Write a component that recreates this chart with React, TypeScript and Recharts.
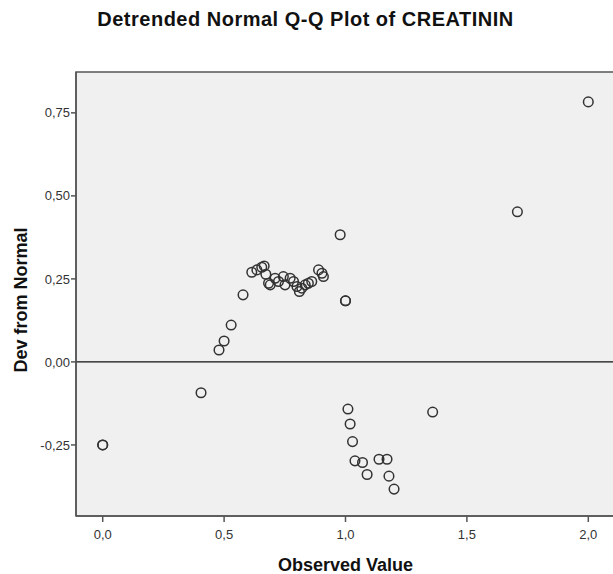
import { ScatterChart, Scatter, XAxis, YAxis, ReferenceArea, ReferenceLine } from 'recharts';

const observed = [
  0.0, 0.0, 0.405, 0.479, 0.5, 0.529, 0.578,
  0.614, 0.635, 0.655, 0.665, 0.672, 0.683, 0.69, 0.71, 0.724, 0.744, 0.751,
  0.772, 0.786, 0.8, 0.81, 0.82, 0.834, 0.847, 0.861, 0.889, 0.903, 0.909,
  0.978, 1.0, 1.0, 1.01, 1.019, 1.029, 1.039, 1.07, 1.089, 1.138, 1.171,
  1.179, 1.2, 1.359, 1.708, 2.0,
];

const devFromNormal = [
  -0.25, -0.25, -0.093, 0.036, 0.063, 0.111, 0.202,
  0.27, 0.277, 0.285, 0.289, 0.264, 0.237, 0.232, 0.252, 0.242, 0.257, 0.232,
  0.252, 0.242, 0.227, 0.212, 0.222, 0.232, 0.237, 0.242, 0.277, 0.267, 0.257,
  0.383, 0.184, 0.184, -0.142, -0.187, -0.24, -0.298, -0.303, -0.339, -0.293, -0.293,
  -0.344, -0.383, -0.151, 0.452, 0.783,
];

const xTicks = [0, 0.5, 1, 1.5, 2];
const yTicks = [-0.25, 0, 0.25, 0.5, 0.75];

const X_DOMAIN: [number, number] = [-0.11, 2.11];
const Y_DOMAIN: [number, number] = [-0.464, 0.873];

const points = observed.map((x, i) => ({ x, y: devFromNormal[i] }));

const font = '"Liberation Sans", Arial, sans-serif';

function Ring(props: any) {
  const { cx, cy } = props;
  if (cx == null || cy == null) return null;
  return <circle cx={cx} cy={cy} r={4.8} fill="none" stroke="#333" strokeWidth={1.5} />;
}

export default function App() {
  return (
    <div
      style={{
        position: 'absolute',
        left: 0,
        top: 0,
        width: 613,
        height: 574,
        overflow: 'hidden',
        background: '#fff',
        fontFamily: font,
      }}
    >
      <div
        style={{
          position: 'absolute',
          top: 8,
          left: 0,
          width: 611,
          textAlign: 'center',
          fontWeight: 'bold',
          fontSize: 20,
          letterSpacing: 0.5,
          color: '#111',
        }}
      >
        Detrended Normal Q-Q Plot of CREATININ
      </div>

      <div style={{ position: 'absolute', left: 0, top: 0 }}>
        <ScatterChart width={640} height={574} margin={{ top: 72, right: 25, bottom: 0, left: 0 }}>
          <ReferenceArea
            x1={X_DOMAIN[0]}
            x2={X_DOMAIN[1]}
            y1={Y_DOMAIN[0]}
            y2={Y_DOMAIN[1]}
            fill="#f0f0f0"
            fillOpacity={1}
            stroke="#555"
            strokeWidth={1.5}
          />
          <XAxis
            type="number"
            dataKey="x"
            domain={X_DOMAIN}
            ticks={xTicks}
            allowDataOverflow
            height={58}
            tickFormatter={(v: number) => v.toFixed(1).replace('.', ',')}
            tick={{ fill: '#333', fontSize: 13, fontFamily: font, dy: 6 }}
            tickLine={{ stroke: '#555', strokeWidth: 1.5 }}
            tickSize={6}
            axisLine={{ stroke: '#555', strokeWidth: 1.5 }}
            label={{
              value: 'Observed Value',
              position: 'insideBottom',
              offset: 3,
              fill: '#111',
              fontSize: 18,
              fontWeight: 'bold',
              fontFamily: font,
            }}
          />
          <YAxis
            type="number"
            dataKey="y"
            domain={Y_DOMAIN}
            ticks={yTicks}
            allowDataOverflow
            width={76}
            tickFormatter={(v: number) => v.toFixed(2).replace('.', ',')}
            tick={{ fill: '#333', fontSize: 13, fontFamily: font, dx: 1 }}
            tickLine={{ stroke: '#555', strokeWidth: 1.5 }}
            tickSize={5}
            axisLine={{ stroke: '#555', strokeWidth: 1.5 }}
            label={{
              value: 'Dev from Normal',
              angle: -90,
              position: 'insideLeft',
              offset: 21,
              dy: 6,
              style: { textAnchor: 'middle' },
              fill: '#111',
              fontSize: 18,
              fontWeight: 'bold',
              fontFamily: font,
            }}
          />
          <ReferenceLine y={0} stroke="#111" strokeWidth={1.4} />
          <Scatter data={points} shape={<Ring />} isAnimationActive={false} />
        </ScatterChart>
      </div>
    </div>
  );
}
